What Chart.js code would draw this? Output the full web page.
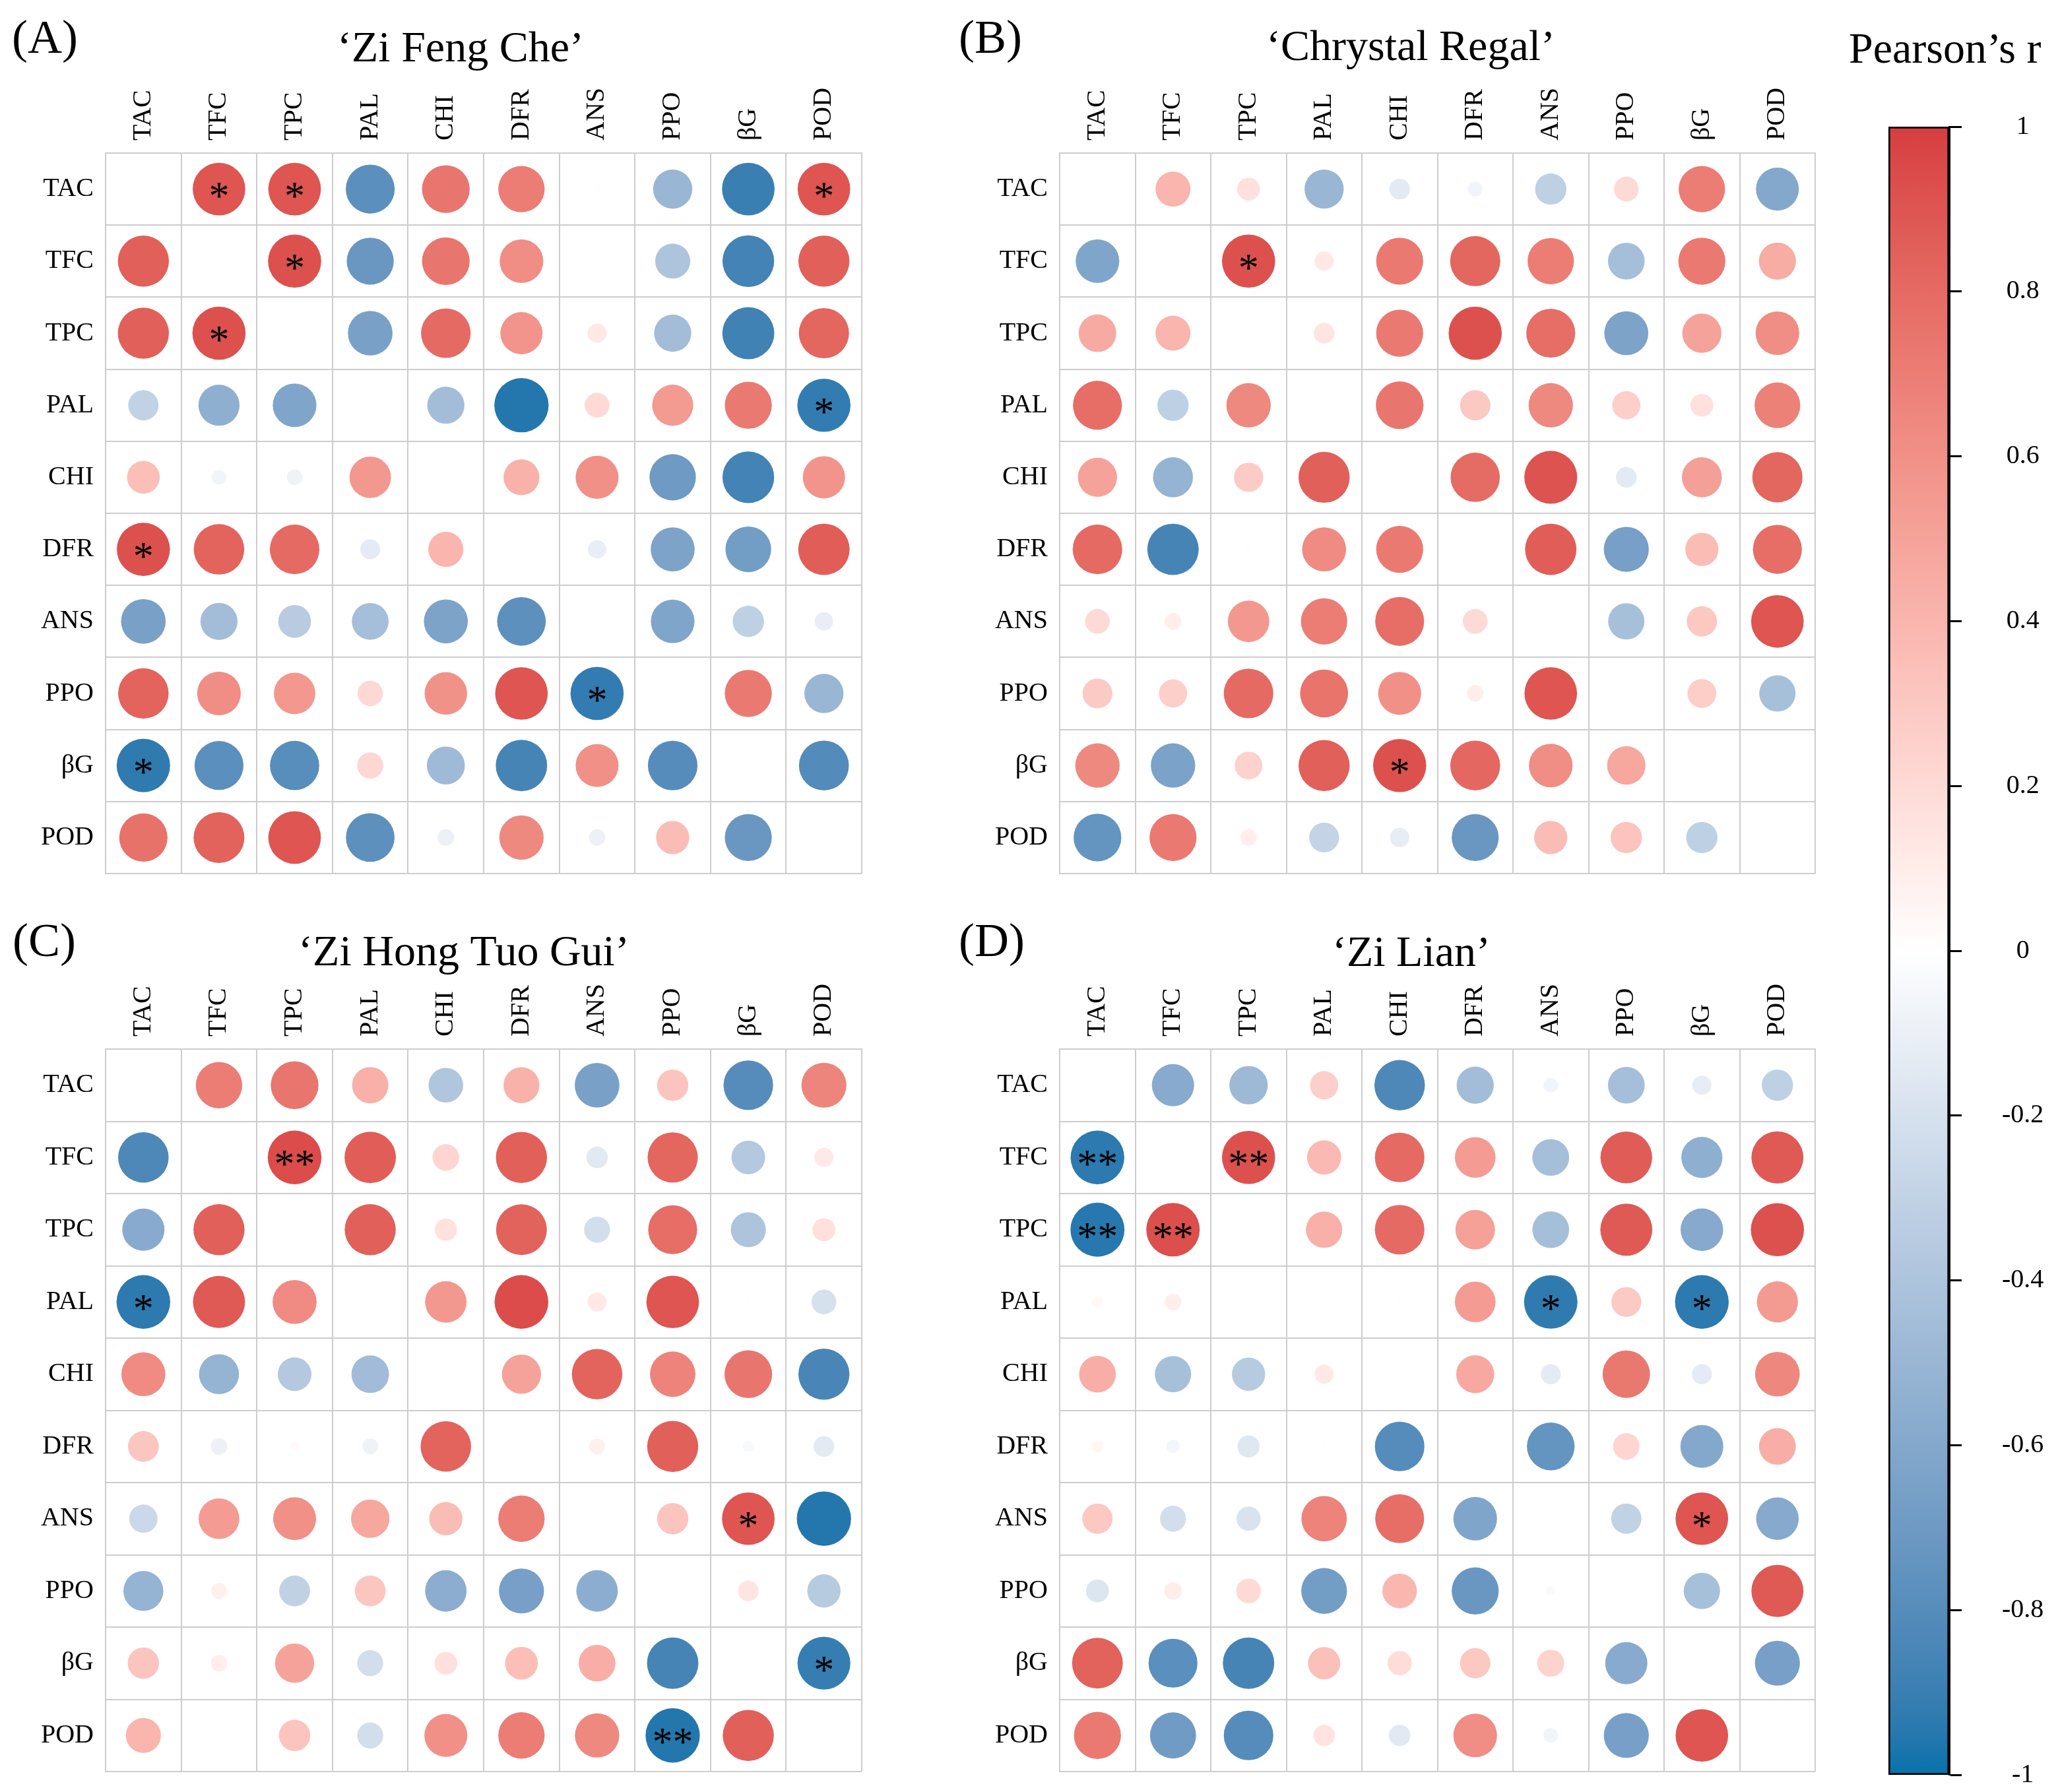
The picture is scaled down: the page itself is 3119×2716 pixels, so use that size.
<!DOCTYPE html>
<html>
<head>
<meta charset="utf-8">
<script src="https://cdn.jsdelivr.net/npm/chart.js@4.4.1/dist/chart.umd.min.js"></script>
<style>
  html, body { margin: 0; padding: 0; background: #fff; }
  body { width: 3119px; height: 2716px; position: relative; overflow: hidden; }
  canvas { position: absolute; }
</style>
</head>
<body>
<canvas id="panelA" width="1356" height="1374" style="left:0px;top:0px;width:1356px;height:1374px"></canvas>
<canvas id="panelB" width="1361" height="1374" style="left:1440px;top:0px;width:1361px;height:1374px"></canvas>
<canvas id="panelC" width="1356" height="1366" style="left:0px;top:1370px;width:1356px;height:1366px"></canvas>
<canvas id="panelD" width="1361" height="1366" style="left:1440px;top:1370px;width:1361px;height:1366px"></canvas>
<canvas id="colorbar" width="319" height="2780" style="left:2800px;top:0px;width:319px;height:2780px"></canvas>
<script>
const vars = ["TAC", "TFC", "TPC", "PAL", "CHI", "DFR", "ANS", "PPO", "βG", "POD"];

// rows = y labels (top to bottom), columns = x labels
const rA = [
  [null, 0.9, 0.9, -0.78, 0.74, 0.7, 0.01, -0.5, -0.9, 0.9],
  [0.85, null, 0.92, -0.72, 0.74, 0.62, 0.005, -0.4, -0.87, 0.85],
  [0.85, 0.92, null, -0.65, 0.8, 0.58, 0.12, -0.45, -0.88, 0.82],
  [-0.3, -0.55, -0.62, null, -0.45, -0.96, 0.2, 0.55, 0.72, -0.92],
  [0.35, -0.07, -0.08, 0.56, null, 0.42, 0.6, -0.7, -0.87, 0.58],
  [0.92, 0.83, 0.8, -0.13, 0.4, null, -0.11, -0.63, -0.68, 0.86],
  [-0.65, -0.45, -0.35, -0.44, -0.63, -0.77, null, -0.62, -0.32, -0.11],
  [0.83, 0.62, 0.56, 0.21, 0.59, 0.9, -0.92, null, 0.72, -0.5],
  [-0.93, -0.78, -0.79, 0.22, -0.47, -0.86, 0.6, -0.8, null, -0.81],
  [0.76, 0.84, 0.9, -0.77, -0.09, 0.64, -0.09, 0.36, -0.72, null]
];
const rB = [
  [null, 0.4, 0.17, -0.5, -0.14, -0.07, -0.32, 0.2, 0.7, -0.6],
  [-0.62, null, 0.92, 0.12, 0.72, 0.82, 0.7, -0.44, 0.72, 0.45],
  [0.46, 0.4, null, 0.14, 0.72, 0.92, 0.78, -0.63, 0.5, 0.62],
  [0.78, -0.32, 0.64, null, 0.74, 0.3, 0.64, 0.26, 0.17, 0.68],
  [0.5, -0.52, 0.28, 0.85, null, 0.79, 0.91, -0.14, 0.52, 0.82],
  [0.8, -0.86, 0.01, 0.63, 0.72, null, 0.86, -0.66, 0.36, 0.78],
  [0.2, 0.09, 0.56, 0.7, 0.78, 0.2, null, -0.43, 0.3, 0.9],
  [0.29, 0.26, 0.8, 0.75, 0.6, 0.09, 0.9, null, 0.27, -0.43],
  [0.64, -0.64, 0.25, 0.85, 0.92, 0.81, 0.62, 0.48, null, 0.005],
  [-0.74, 0.72, 0.09, -0.29, -0.12, -0.72, 0.36, 0.32, -0.32, null]
];
const rC = [
  [null, 0.7, 0.74, 0.43, -0.39, 0.42, -0.65, 0.32, -0.8, 0.66],
  [-0.83, null, 0.94, 0.86, 0.23, 0.85, -0.15, 0.82, -0.37, 0.12],
  [-0.58, 0.85, null, 0.85, 0.16, 0.84, -0.22, 0.78, -0.4, 0.17],
  [-0.94, 0.88, 0.63, null, 0.56, 0.94, 0.12, 0.9, -0.005, -0.2],
  [0.63, -0.52, -0.37, -0.46, null, 0.5, 0.83, 0.67, 0.74, -0.85],
  [0.31, -0.09, 0.03, -0.08, 0.83, null, 0.08, 0.85, -0.04, -0.14],
  [-0.26, 0.54, 0.6, 0.48, 0.36, 0.7, null, 0.32, 0.9, -0.96],
  [-0.52, 0.08, -0.31, 0.31, -0.56, -0.66, -0.56, null, 0.14, -0.36],
  [0.32, 0.09, 0.5, -0.22, 0.17, 0.35, 0.44, -0.86, null, -0.91],
  [0.4, 0, 0.32, -0.22, 0.6, 0.7, 0.64, -0.96, 0.85, null]
];
const rD = [
  [null, -0.58, -0.48, 0.26, -0.83, -0.45, -0.07, -0.44, -0.12, -0.32],
  [-0.94, null, 0.92, 0.38, 0.8, 0.54, -0.44, 0.87, -0.55, 0.88],
  [-0.95, 0.93, null, 0.43, 0.8, 0.51, -0.44, 0.88, -0.59, 0.92],
  [0.04, 0.09, 0, null, 0.01, 0.54, -0.93, 0.29, -0.94, 0.55],
  [0.44, -0.43, -0.36, 0.12, null, 0.47, -0.13, 0.73, -0.13, 0.65],
  [0.05, -0.06, -0.16, 0.005, -0.8, null, -0.74, 0.23, -0.6, 0.44],
  [0.3, -0.22, -0.19, 0.67, 0.78, -0.62, null, -0.3, 0.9, -0.59],
  [-0.17, 0.1, 0.2, -0.68, 0.39, -0.72, -0.03, null, -0.43, 0.88],
  [0.84, -0.78, -0.86, 0.34, 0.19, 0.3, 0.24, -0.58, null, -0.66],
  [0.72, -0.69, -0.8, 0.15, -0.15, 0.62, -0.07, -0.66, 0.9, null]
];

// significance marks: [row, column, mark]
const sigA = [["TAC", "TFC", "*"], ["TAC", "TPC", "*"], ["TAC", "POD", "*"], ["TFC", "TPC", "*"],
  ["TPC", "TFC", "*"], ["PAL", "POD", "*"], ["DFR", "TAC", "*"], ["PPO", "ANS", "*"], ["βG", "TAC", "*"]];
const sigB = [["TFC", "TPC", "*"], ["βG", "CHI", "*"]];
const sigC = [["TFC", "TPC", "**"], ["PAL", "TAC", "*"], ["ANS", "βG", "*"], ["βG", "POD", "*"], ["POD", "PPO", "**"]];
const sigD = [["TFC", "TAC", "**"], ["TFC", "TPC", "**"], ["TPC", "TAC", "**"], ["TPC", "TFC", "**"],
  ["PAL", "ANS", "*"], ["PAL", "βG", "*"], ["ANS", "βG", "*"]];

const cultivars = ["‘Zi Feng Che’", "‘Chrystal Regal’", "‘Zi Hong Tuo Gui’", "‘Zi Lian’"];
const panelTags = ["(A)", "(B)", "(C)", "(D)"];
const cbTicks = [-1, -0.8, -0.6, -0.4, -0.2, 0, 0.2, 0.4, 0.6, 0.8, 1];

const FONT = "'Liberation Serif', 'Times New Roman', serif";
const GRID = "#cdcdcd";
const MAX_R = 42;
const HI = [214, 62, 64];
const LO = [6, 114, 170];

// colour scale: white -> end colour, interpolated in Lab
function toLin(c) { c /= 255; return c <= 0.04045 ? c / 12.92 : Math.pow((c + 0.055) / 1.055, 2.4); }
function fromLin(c) {
  const v = c <= 0.0031308 ? 12.92 * c : 1.055 * Math.pow(c, 1 / 2.4) - 0.055;
  return Math.round(Math.max(0, Math.min(1, v)) * 255);
}
function rgbToLab(rgb) {
  const [r, g, b] = rgb.map(toLin);
  let x = (0.4124 * r + 0.3576 * g + 0.1805 * b) / 0.95047;
  let y = 0.2126 * r + 0.7152 * g + 0.0722 * b;
  let z = (0.0193 * r + 0.1192 * g + 0.9505 * b) / 1.08883;
  const f = t => t > 0.008856 ? Math.cbrt(t) : 7.787 * t + 16 / 116;
  x = f(x); y = f(y); z = f(z);
  return [116 * y - 16, 500 * (x - y), 200 * (y - z)];
}
function labToRgb(lab) {
  const [L, a, bb] = lab;
  let y = (L + 16) / 116, x = a / 500 + y, z = y - bb / 200;
  const fi = t => t * t * t > 0.008856 ? t * t * t : (t - 16 / 116) / 7.787;
  x = fi(x) * 0.95047; y = fi(y); z = fi(z) * 1.08883;
  const r = 3.2406 * x - 1.5372 * y - 0.4986 * z;
  const g = -0.9689 * x + 1.8758 * y + 0.0415 * z;
  const b = 0.0557 * x - 0.2040 * y + 1.0570 * z;
  return [fromLin(r), fromLin(g), fromLin(b)];
}
const WHITE_LAB = rgbToLab([255, 255, 255]);
const HI_LAB = rgbToLab(HI);
const LO_LAB = rgbToLab(LO);
function colorFor(v) {
  const t = Math.min(1, Math.abs(v));
  const end = v >= 0 ? HI_LAB : LO_LAB;
  const lab = WHITE_LAB.map((w, i) => w + (end[i] - w) * t);
  const [r, g, b] = labToRgb(lab);
  return `rgb(${r},${g},${b})`;
}

function bubbles(vals) {
  const pts = [];
  vals.forEach((row, i) => row.forEach((v, j) => {
    if (v === null) return;
    pts.push({ x: vars[j], y: vars[i], r: MAX_R * Math.sqrt(Math.abs(v)), v: v });
  }));
  return pts;
}

// titles and significance stars
const decor = {
  id: "decor",
  afterDatasetsDraw(chart, args, opts) {
    const ctx = chart.ctx;
    ctx.save();
    ctx.fillStyle = "#000";
    ctx.font = `62px ${FONT}`;
    ctx.textAlign = "center";
    ctx.textBaseline = "alphabetic";
    opts.sig.forEach(([row, col, mark]) => {
      const x = chart.scales.x.getPixelForValue(col);
      const y = chart.scales.y.getPixelForValue(row);
      ctx.fillText(mark, x, y + 30);
    });
    ctx.font = `72px ${FONT}`;
    ctx.textAlign = "left";
    ctx.fillText(opts.tag, opts.tagX, opts.tagY);
    ctx.font = `66px ${FONT}`;
    ctx.textAlign = "center";
    ctx.fillText(opts.title, opts.titleX, opts.titleY);
    ctx.restore();
  }
};

const panels = [
  { id: "panelA", vals: rA, sig: sigA, yW: 160, xH: 232, padR: 50, padB: 50, tagX: 18, tagY: 80, titleX: 698, titleY: 93 },
  { id: "panelB", vals: rB, sig: sigB, yW: 166, xH: 232, padR: 50, padB: 50, tagX: 13, tagY: 80, titleX: 698, titleY: 91 },
  { id: "panelC", vals: rC, sig: sigC, yW: 160, xH: 220, padR: 50, padB: 51, tagX: 19, tagY: 79, titleX: 703, titleY: 93 },
  { id: "panelD", vals: rD, sig: sigD, yW: 166, xH: 220, padR: 50, padB: 51, tagX: 13, tagY: 79, titleX: 699, titleY: 94 }
];

panels.forEach((p, k) => {
  new Chart(document.getElementById(p.id), {
    type: "bubble",
    data: {
      datasets: [{
        data: bubbles(p.vals),
        backgroundColor: c => (c.raw ? colorFor(c.raw.v) : "#fff"),
        borderWidth: 0,
        hoverBorderWidth: 0
      }]
    },
    options: {
      responsive: false,
      animation: false,
      events: [],
      layout: { autoPadding: false, padding: { left: 0, top: 0, right: p.padR, bottom: p.padB } },
      plugins: {
        legend: { display: false },
        tooltip: { enabled: false },
        decor: { sig: p.sig, tag: panelTags[k], tagX: p.tagX, tagY: p.tagY, title: cultivars[k], titleX: p.titleX, titleY: p.titleY }
      },
      scales: {
        x: {
          type: "category",
          labels: vars,
          position: "top",
          offset: true,
          grid: { offset: true, color: GRID, lineWidth: 2, drawTicks: false },
          border: { display: true, color: GRID, width: 2 },
          ticks: { font: { family: FONT, size: 40 }, color: "#000", padding: 19, labelOffset: 48,
                   minRotation: 90, maxRotation: 90, autoSkip: false },
          afterFit: s => { s.height = p.xH; }
        },
        y: {
          type: "category",
          labels: vars,
          position: "left",
          offset: true,
          grid: { offset: true, color: GRID, lineWidth: 2, drawTicks: false },
          border: { display: true, color: GRID, width: 2 },
          ticks: { font: { family: FONT, size: 40 }, color: "#000", padding: 18, autoSkip: false },
          afterFit: s => { s.width = p.yW; }
        }
      }
    },
    plugins: [decor]
  });
});

// colour bar
const cbTitle = {
  id: "cbTitle",
  afterDraw(chart) {
    const ctx = chart.ctx;
    ctx.save();
    ctx.fillStyle = "#000";
    ctx.font = `66px ${FONT}`;
    ctx.textAlign = "left";
    ctx.fillText("Pearson’s r", 2, 95);
    ctx.restore();
  }
};

new Chart(document.getElementById("colorbar"), {
  type: "bar",
  data: {
    labels: [""],
    datasets: [{
      data: [[-1, 1]],
      backgroundColor: c => {
        const a = c.chart.chartArea;
        if (!a) return "#fff";
        const g = c.chart.ctx.createLinearGradient(0, a.bottom, 0, a.top);
        for (let k = 0; k <= 40; k++) g.addColorStop(k / 40, colorFor(-1 + k / 20));
        return g;
      },
      borderColor: "#000",
      borderWidth: 3,
      borderSkipped: false,
      barPercentage: 1,
      categoryPercentage: 1
    }]
  },
  options: {
    responsive: false,
    animation: false,
    events: [],
    layout: { autoPadding: false, padding: { left: 62, top: 192, right: 0, bottom: 90 } },
    plugins: { legend: { display: false }, tooltip: { enabled: false } },
    scales: {
      x: { display: false },
      y: {
        position: "right",
        min: -1,
        max: 1,
        afterBuildTicks: s => { s.ticks = cbTicks.map(v => ({ value: v })); },
        ticks: { callback: v => String(v), font: { family: FONT, size: 40 }, color: "#000", padding: 61, crossAlign: "center" },
        grid: { drawOnChartArea: false, drawTicks: true, tickLength: 19, tickWidth: 3, tickColor: "#000" },
        border: { display: true, color: "#000", width: 3 },
        afterFit: s => { s.width = 165; }
      }
    }
  },
  plugins: [cbTitle]
});
</script>
</body>
</html>
